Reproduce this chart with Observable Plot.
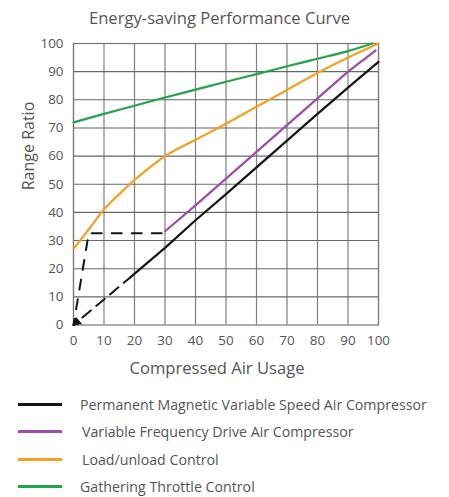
<!DOCTYPE html>
<html><head><meta charset="utf-8">
<script src="https://cdn.jsdelivr.net/npm/d3@7"></script>
<script src="https://cdn.jsdelivr.net/npm/@observablehq/plot@0.6"></script>
<style>
body{margin:0;background:#fff;font-family:"Open Sans",sans-serif;color:#555}
#title{height:34px;line-height:36px;text-align:center;font-size:16.6px;width:449px;padding-right:10px;box-sizing:border-box;color:#555}
#chart{height:350px}
#legend{padding-top:7px}
.row{height:27.3px;display:flex;align-items:center;font-size:14.2px;color:#555}
.sw{width:44px;height:3px;margin-left:18px;margin-right:18px;flex:none}
</style></head><body>
<div id="title">Energy-saving Performance Curve</div>
<div id="chart"></div>
<div id="legend"></div>
<script>
const xTicks = [0,10,20,30,40,50,60,70,80,90,100];
const yTicks = [0,10,20,30,40,50,60,70,80,90,100];

const seriesNames = [
  "Permanent Magnetic Variable Speed Air Compressor",
  "Variable Frequency Drive Air Compressor",
  "Load/unload Control",
  "Gathering Throttle Control"
];
const seriesColors = ["#151515", "#9c4ea6", "#f5a01e", "#22a44c"];

const pmX = [18.5,30,40,50,60,70,80,90,100];
const pmY = [16.8,27.4,37.2,46.5,56,65.5,75,84.3,93.5];
const vfdX = [30,40,50,60,70,80,90,99];
const vfdY = [33.3,42.5,52,61.5,71,80.5,90,97.5];
const luX = [0,5,10,15,20,25,30,40,50,60,70,80,90,100];
const luY = [27,34,41,46.5,51.5,56,60,65.8,71.5,77.5,83.5,89.5,95,100];
const gtX = [0,10,20,30,40,50,60,70,80,90,98];
const gtY = [72,75,77.9,80.8,83.6,86.4,89.1,91.9,94.6,97.3,100];

// dashed start-up paths of the PM compressor
const dashDiagX = [18.5,0];
const dashDiagY = [16.8,0];
const dashStepX = [0,5,30];
const dashStepY = [0,32.6,32.6];

const pts = (X,Y) => X.map((x,i)=>({x, y:Y[i]}));

const font = '"Open Sans", sans-serif';
const chart = Plot.plot({
  width: 449, height: 350,
  marginLeft: 73, marginRight: 71, marginTop: 9, marginBottom: 59.5,
  x: {domain: [0,100]},
  y: {domain: [0,100]},
  style: {fontFamily: font, fontSize: "13px", color: "#555", background: "#fff"},
  marks: [
    Plot.ruleX(xTicks, {stroke: "#877c7e", strokeWidth: 1.2}),
    Plot.ruleY(yTicks.filter(d => d > 0 && d < 100), {stroke: "#5f6b6b", strokeWidth: 1.1}),
    Plot.frame({stroke: "#777", strokeWidth: 1.2}),
    Plot.axisX({ticks: xTicks, tickSize: 0, tickPadding: 10, label: null, fontSize: 13.4}),
    Plot.axisY({ticks: yTicks, tickSize: 0, tickPadding: 10, label: null, fontSize: 13.4}),
    Plot.line(pts(gtX, gtY), {x: "x", y: "y", stroke: seriesColors[3], strokeWidth: 2.2, curve: "monotone-x"}),
    Plot.line(pts(luX, luY), {x: "x", y: "y", stroke: seriesColors[2], strokeWidth: 2.2, curve: "monotone-x"}),
    Plot.line(pts(vfdX, vfdY), {x: "x", y: "y", stroke: seriesColors[1], strokeWidth: 2.2}),
    Plot.line(pts(pmX, pmY), {x: "x", y: "y", stroke: seriesColors[0], strokeWidth: 2.2}),
    Plot.line(pts(dashDiagX, dashDiagY), {x: "x", y: "y", stroke: seriesColors[0], strokeWidth: 2, strokeDasharray: "11,7", strokeDashoffset: 3}),
    Plot.line(pts(dashStepX, dashStepY), {x: "x", y: "y", stroke: seriesColors[0], strokeWidth: 2, strokeDasharray: "10,10", strokeDashoffset: 4}),
    Plot.dot([{x: 1.1, y: 1.0}], {x: "x", y: "y", symbol: "triangle", r: 3.6, fill: seriesColors[0], stroke: "none", rotate: 230}),
    Plot.text(["Compressed Air Usage"], {frameAnchor: "bottom", dy: 48.5, dx: -9, fontSize: 16.6, fill: "#555"}),
    Plot.text(["Range Ratio"], {frameAnchor: "left", dx: -45, dy: 6, rotate: -90, fontSize: 16, fill: "#555"})
  ]
});
document.getElementById("chart").appendChild(chart);

const leg = document.getElementById("legend");
const textIndent = [0, 2, 2, 0];
seriesNames.forEach((n,i) => {
  const r = document.createElement("div");
  r.className = "row";
  r.innerHTML = `<span class="sw" style="background:${seriesColors[i]}"></span><span style="margin-left:${textIndent[i]}px">${n}</span>`;
  leg.appendChild(r);
});
</script>
</body></html>
